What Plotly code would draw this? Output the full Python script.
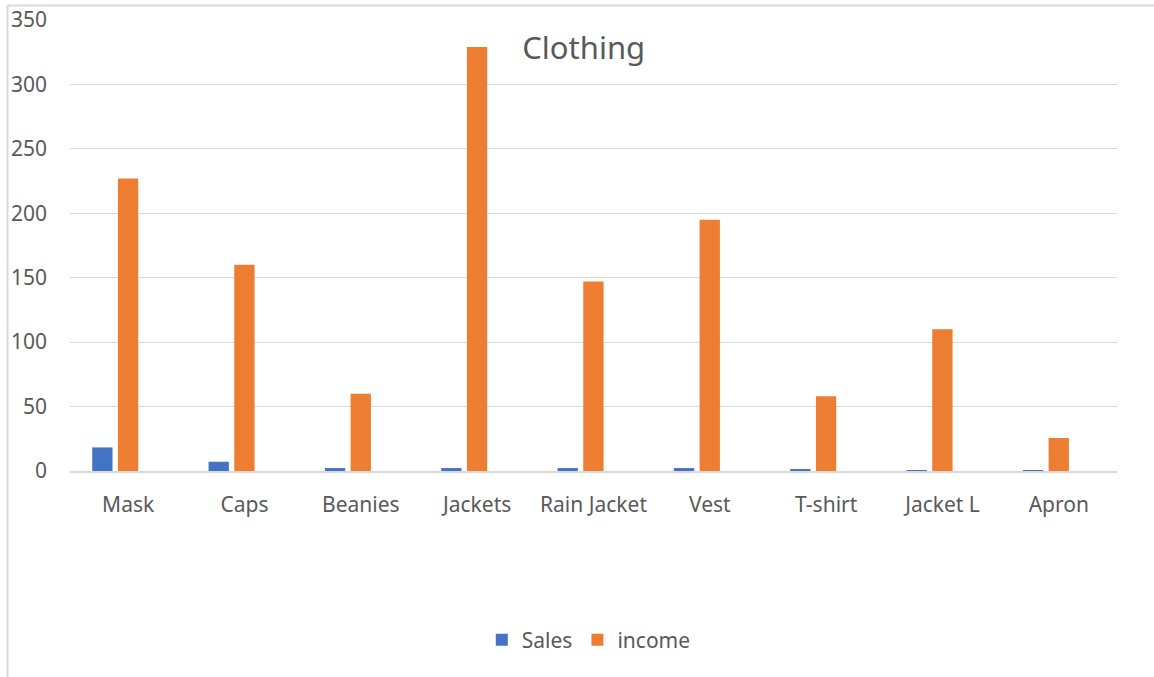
import plotly.graph_objects as go

# Clothing sales and income per product
categories = ["Mask", "Caps", "Beanies", "Jackets", "Rain Jacket", "Vest", "T-shirt", "Jacket L", "Apron"]
sales = [18.3, 7.2, 2.3, 2.3, 2.3, 2.3, 1.2, 0.2, 0.2]
income = [227, 160, 60, 329, 147, 195, 58, 110, 25.6]
y_ticks = [0, 50, 100, 150, 200, 250, 300, 350]

BLUE = "#4472C4"
ORANGE = "#ED7D31"
TEXT = "#595959"
GRID = "#D9D9D9"
FONT = "Noto Sans, Open Sans, sans-serif"

W, H = 1154, 677
L, R, T, B = 70, 37, 20, 206

bar_w = 0.1745

fig = go.Figure()
fig.add_trace(go.Bar(x=categories, y=sales, name="Sales", marker_color=BLUE,
                     marker_line_width=0, width=bar_w, offset=-0.309))
fig.add_trace(go.Bar(x=categories, y=income, name="income", marker_color=ORANGE,
                     marker_line_width=0, width=bar_w, offset=-0.088))

# chart-area frame (left and top edges)
pw = W - L - R
ph = H - T - B
def px_x(px):
    return (px - L) / pw
def px_y(py):
    return 1 - (py - T) / ph

frame = dict(color=GRID, width=2)
fig.add_shape(type="line", xref="paper", yref="paper",
              x0=px_x(7.5), x1=px_x(1160), y0=px_y(5.5), y1=px_y(5.5), line=frame)
fig.add_shape(type="line", xref="paper", yref="paper",
              x0=px_x(7.5), x1=px_x(7.5), y0=px_y(5.5), y1=px_y(690), line=frame)

fig.update_layout(
    width=W, height=H,
    margin=dict(l=L, r=R, t=T, b=B, autoexpand=False),
    paper_bgcolor="white", plot_bgcolor="white",
    font=dict(family=FONT, size=21, color=TEXT),
    barmode="overlay",
    showlegend=True,
    legend=dict(orientation="h", x=0.4955, xanchor="center", y=px_y(640), yanchor="middle",
                font=dict(family=FONT, size=21, color=TEXT), itemwidth=30,
                bgcolor="rgba(0,0,0,0)"),
    title=dict(text="Clothing", x=583.7 / W, xanchor="center", xref="container",
               y=1 - 48 / H, yanchor="middle", yref="container",
               font=dict(family=FONT, size=31, color=TEXT)),
)

fig.update_xaxes(
    type="category", range=[-0.5, len(categories) - 0.5], automargin=False,
    showgrid=False, showline=True, linecolor=GRID, linewidth=2,
    ticks="", ticklabelstandoff=14, tickfont=dict(family=FONT, size=21, color=TEXT),
)
fig.update_yaxes(
    range=[0, 350], tickvals=y_ticks, showgrid=True, gridcolor=GRID, gridwidth=1.3,
    zeroline=False, showline=False, ticks="", ticklabelstandoff=22, automargin=False,
    tickfont=dict(family=FONT, size=21, color=TEXT),
)

fig.write_html("out.html")
